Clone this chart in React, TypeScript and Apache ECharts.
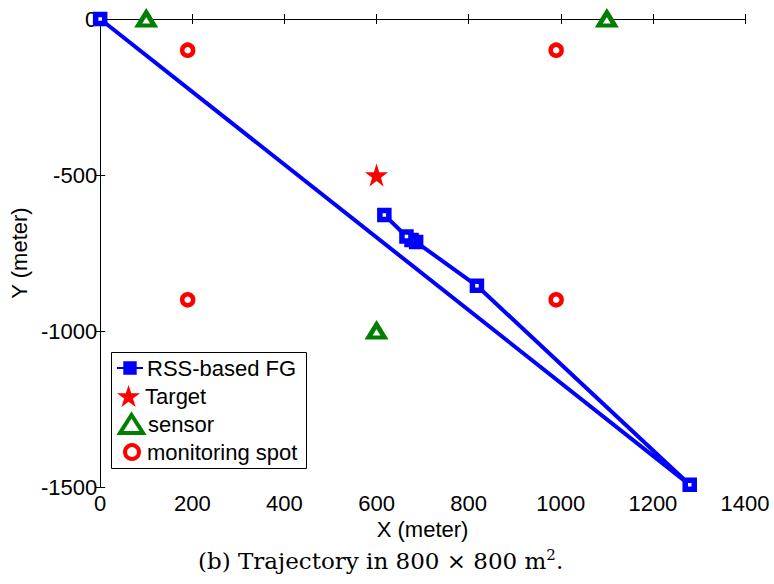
import React, { useEffect, useRef } from "react";
import * as echarts from "echarts";

const fgX = [0, 1280, 818, 686, 676, 665, 617];
const fgY = [0, -1493, -855, -715, -708, -697, -628];
const targetX = [600];
const targetY = [-500];
const sensorX = [100, 1100, 600];
const sensorY = [0, 0, -1000];
const spotX = [190, 990, 190, 990];
const spotY = [-100, -100, -900, -900];

const xTicks = { min: 0, max: 1400, interval: 200 };
const yTicks = { min: -1500, max: 0, interval: 500 };

const seriesNames = ["RSS-based FG", "Target", "sensor", "monitoring spot"];

const zip = (xs: number[], ys: number[]) => xs.map((x, i) => [x, ys[i]]);

const STAR =
  "path://M50,0 L61.8,36.2 L100,36.2 L69.1,58.8 L80.9,95.1 L50,72.5 L19.1,95.1 L30.9,58.8 L0,36.2 L38.2,36.2 Z";

const FONT = "Liberation Sans";
const FS = 22;
const BLUE = "#0000ff";
const RED = "#ff0000";
const GREEN = "#007f00";

export default function App() {
  const ref = useRef<HTMLDivElement>(null);
  useEffect(() => {
    const chart = echarts.init(ref.current!, null, { renderer: "svg" });
    const axisCommon = {
      axisLine: { show: true, lineStyle: { color: "#000", width: 1 } },
      axisTick: { show: true, inside: true, length: 5, lineStyle: { color: "#000" } },
      splitLine: { show: false },
    };
    const legendText = { fontSize: FS, color: "#000", fontFamily: FONT, lineHeight: 22 };
    const mkLegend = (name: string, left: number, top: number, w: number, h: number, gap: number, itemStyle: any) => ({
      left,
      top,
      z: 10,
      orient: "vertical",
      data: [name],
      padding: 0,
      itemWidth: w,
      itemHeight: h,
      itemGap: 0,
      textStyle: { ...legendText, padding: [0, 0, 0, gap - 5] },
      itemStyle,
    });
    chart.setOption({
      animation: false,
      textStyle: { fontFamily: FONT },
      grid: { left: 98, right: 29, top: 19, bottom: 97, containLabel: false },
      xAxis: [
        {
          type: "value",
          ...xTicks,
          ...axisCommon,
          name: "X (meter)",
          nameLocation: "middle",
          nameGap: 25,
          nameTextStyle: { fontSize: FS, color: "#000", fontFamily: FONT },
          axisLabel: { fontSize: FS, color: "#000", margin: 5, fontFamily: FONT, formatter: (v: number) => String(v) },
        },
        {
          type: "value",
          position: "top",
          ...xTicks,
          ...axisCommon,
          axisLabel: { show: false },
        },
      ],
      yAxis: [
        {
          type: "value",
          ...yTicks,
          ...axisCommon,
          name: "Y (meter)",
          nameLocation: "middle",
          nameRotate: 90,
          nameGap: 62,
          nameTextStyle: { fontSize: FS, color: "#000", fontFamily: FONT },
          axisLabel: { fontSize: FS, color: "#000", margin: 3, fontFamily: FONT, formatter: (v: number) => String(v) },
        },
        {
          type: "value",
          position: "right",
          ...yTicks,
          ...axisCommon,
          axisLabel: { show: false },
        },
      ],
      legend: [
        mkLegend(seriesNames[0], 116, 357, 26, 13, 4, { color: BLUE, borderColor: BLUE, borderWidth: 3 }),
        mkLegend(seriesNames[1], 117, 385, 25, 22, 4, { color: RED, borderWidth: 0 }),
        mkLegend(seriesNames[2], 118, 413, 23, 18, 5, { color: "#fff", borderColor: GREEN, borderWidth: 4 }),
        mkLegend(seriesNames[3], 123, 441, 14, 14, 8, { color: "#fff", borderColor: RED, borderWidth: 4 }),
      ],
      series: [
        {
          name: seriesNames[0],
          type: "line",
          data: zip(fgX, fgY),
          symbol: "rect",
          symbolSize: 9,
          clip: false,
          lineStyle: { color: BLUE, width: 4 },
          itemStyle: { color: "#fff", borderColor: BLUE, borderWidth: 5.5, opacity: 1 },
          z: 3,
        },
        {
          name: seriesNames[1],
          type: "scatter",
          data: zip(targetX, targetY),
          symbol: STAR,
          symbolSize: 23,
          clip: false,
          itemStyle: { color: RED, opacity: 1 },
        },
        {
          name: seriesNames[2],
          type: "scatter",
          data: zip(sensorX, sensorY),
          symbol: "triangle",
          symbolSize: [16, 13],
          clip: false,
          itemStyle: { color: "#fff", borderColor: GREEN, borderWidth: 4.5, opacity: 1 },
        },
        {
          name: seriesNames[3],
          type: "scatter",
          data: zip(spotX, spotY),
          symbol: "circle",
          symbolSize: 11,
          clip: false,
          itemStyle: { color: "#fff", borderColor: RED, borderWidth: 4.5, opacity: 1 },
        },
      ],
      graphic: [
        {
          type: "rect",
          left: 111,
          top: 352,
          shape: { width: 195, height: 116 },
          style: { fill: "#fff", stroke: "#000", lineWidth: 1 },
          z: 3,
        },
        {
          type: "text",
          left: 198,
          top: 547,
          style: {
            text: "{a|(b) Trajectory in 800 × 800 m}{s|2}{a|.}",
            rich: {
              a: { fontFamily: "DejaVu Serif", fontSize: 23, color: "#000", lineHeight: 28 },
              s: { fontFamily: "DejaVu Serif", fontSize: 15, color: "#000", verticalAlign: "top", lineHeight: 18 },
            },
          },
        },
      ],
    });
    return () => chart.dispose();
  }, []);
  return <div ref={ref} style={{ position: "absolute", left: 0, top: 0, width: 774, height: 584 }} />;
}
